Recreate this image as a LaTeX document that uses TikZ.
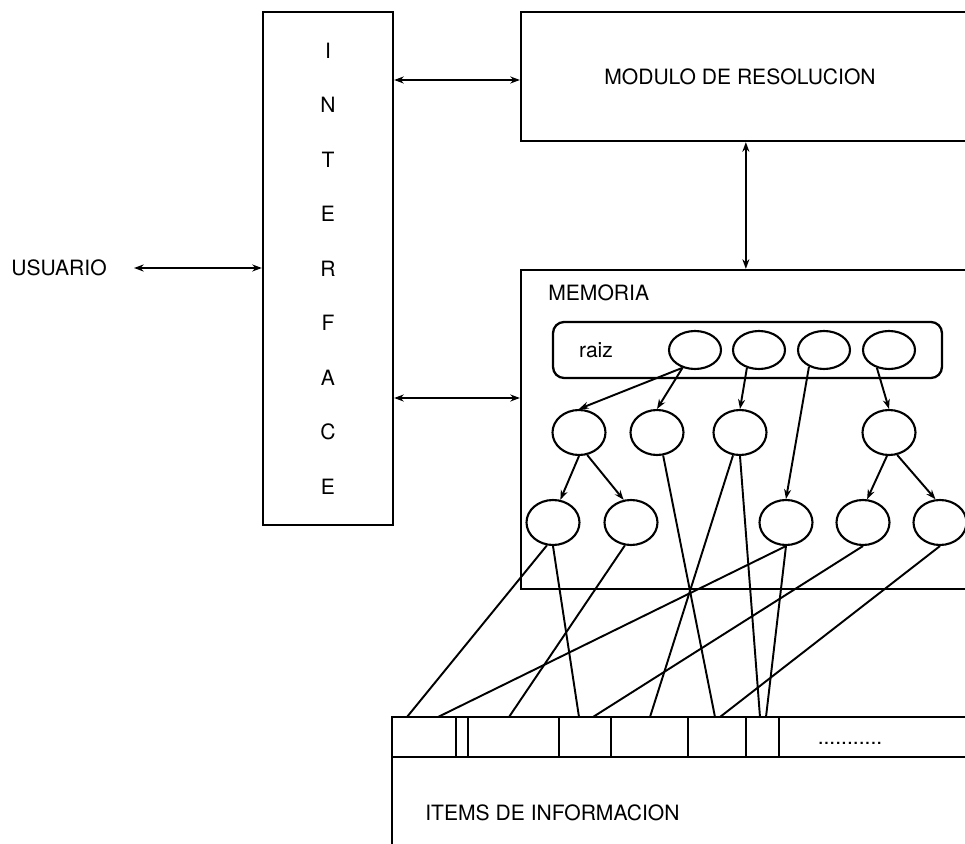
\documentclass[tikz,border=0pt]{standalone}
\usepackage{fontspec}
\setmainfont{TeX Gyre Heros}
\usetikzlibrary{positioning, arrows.meta, shapes.geometric}

\begin{document}
\begin{tikzpicture}[
    x=0.02cm, y=-0.02cm,
    >={Stealth[length=5.5pt, width=4pt]},
    caja/.style={draw, rectangle, line width=1.3pt, inner sep=0pt},
    nodo/.style={draw, ellipse, line width=1.2pt, minimum width=1.06cm, minimum height=0.9cm, inner sep=0pt},
    nodoraiz/.style={nodo, minimum width=1.04cm, minimum height=0.76cm},
    txt/.style={font=\fontsize{12}{14}\selectfont, inner sep=0pt},
    dflecha/.style={<->, line width=1.2pt},
    flecha/.style={->, line width=1.1pt},
    enlace/.style={line width=1.1pt}
]

% marco fijo de la figura
\useasboundingbox (0,0) rectangle (965,844);

% Bloques principales
\node[caja, minimum width=2.6cm, minimum height=10.26cm, align=center, font=\fontsize{12}{31}\selectfont] (interface) at (328,268.5) {I\\N\\T\\E\\R\\F\\A\\C\\E};
\node[txt] (usuario) at (59,268) {USUARIO};

\node[caja, minimum width=9.58cm, minimum height=2.58cm] (modulo) at (760.5,76.5) {};
\node[txt] (modtxt) at (740,77) {MODULO DE RESOLUCION};

\node[caja, minimum width=9.58cm, minimum height=6.38cm] (memoria) at (760.5,429.5) {};
\node[txt, anchor=west] (memtxt) at (548,293) {MEMORIA};

\node[caja, rounded corners=0.22cm, minimum width=7.78cm, minimum height=1.12cm] (raiz) at (747.5,350) {};
\node[txt] (raiztxt) at (596,350) {raiz};

\node[caja, minimum width=12.16cm, minimum height=3.66cm] (items) at (696,808.5) {};
\node[txt, anchor=west] (itemstxt) at (425,813) {ITEMS DE INFORMACION};

% fila de items
\draw[line width=1.3pt] (items.west |- 0,757) -- (1000,757);
\foreach \x in {456,468,559,611,688,746,779}
    \draw[line width=1.3pt] (\x,717) -- (\x,757);
\node[txt] (puntos) at (850,743) {...........};

% Nodos del arbol
\node[nodoraiz] (r1) at (695,350) {};
\node[nodoraiz] (r2) at (759,350) {};
\node[nodoraiz] (r3) at (824,350) {};
\node[nodoraiz] (r4) at (889,350) {};

\node[nodo] (a1) at (579,432.5) {};
\node[nodo] (a2) at (657,432.5) {};
\node[nodo] (a3) at (740,432.5) {};
\node[nodo] (a4) at (889,432.5) {};

\node[nodo] (b1) at (553,522.5) {};
\node[nodo] (b2) at (631,522.5) {};
\node[nodo] (b3) at (786,522.5) {};
\node[nodo] (b4) at (863,522.5) {};
\node[nodo] (b5) at (940,522.5) {};

% Flechas del arbol
\draw[flecha] (r1.235) -- (a1.north);
\draw[flecha] (r1.235) -- (a2.north);
\draw[flecha] (r2.236) -- (a3.north);
\draw[flecha] (r3.228) -- (b3.north);
\draw[flecha] (r4.236) -- (a4.north);
\draw[flecha] (a1.south) -- (b1.72);
\draw[flecha] (a1.290) -- (b2.108);
\draw[flecha] (a4.265) -- (b4.80);
\draw[flecha] (a4.290) -- (b5.101);

% Enlaces a los items
\coordinate (p1) at (407,717);
\coordinate (p2) at (438,717);
\coordinate (p3) at (509,717);
\coordinate (p4) at (579,717);
\coordinate (p5) at (593,717);
\coordinate (p6) at (650,717);
\coordinate (p7) at (715,717);
\coordinate (p8) at (720,717);
\coordinate (p9) at (760,717);
\coordinate (p10) at (766,717);

\draw[enlace] (b1.255) -- (p1);
\draw[enlace] (b1.south) -- (p4);
\draw[enlace] (b2.255) -- (p3);
\draw[enlace] (a2.285) -- (p7);
\draw[enlace] (a3.253) -- (p6);
\draw[enlace] (a3.south) -- (p9);
\draw[enlace] (b3.south) -- (p2);
\draw[enlace] (b3.south) -- (p10);
\draw[enlace] (b4.south) -- (p5);
\draw[enlace] (b5.south) -- (p8);

% Conexiones entre bloques
\coordinate (modin) at ([yshift=-0.07cm]modulo.west);
\coordinate (memin) at ([yshift=0.63cm]memoria.west);
\draw[dflecha] ([xshift=5.4mm]usuario.east) -- (interface.west |- usuario.east);
\draw[dflecha] (interface.east |- modin) -- (modin);
\draw[dflecha] (interface.east |- memin) -- (memin);
\draw[dflecha] ([xshift=4.52cm]modulo.south west) -- ([xshift=4.52cm]memoria.north west);

\end{tikzpicture}
\end{document}
